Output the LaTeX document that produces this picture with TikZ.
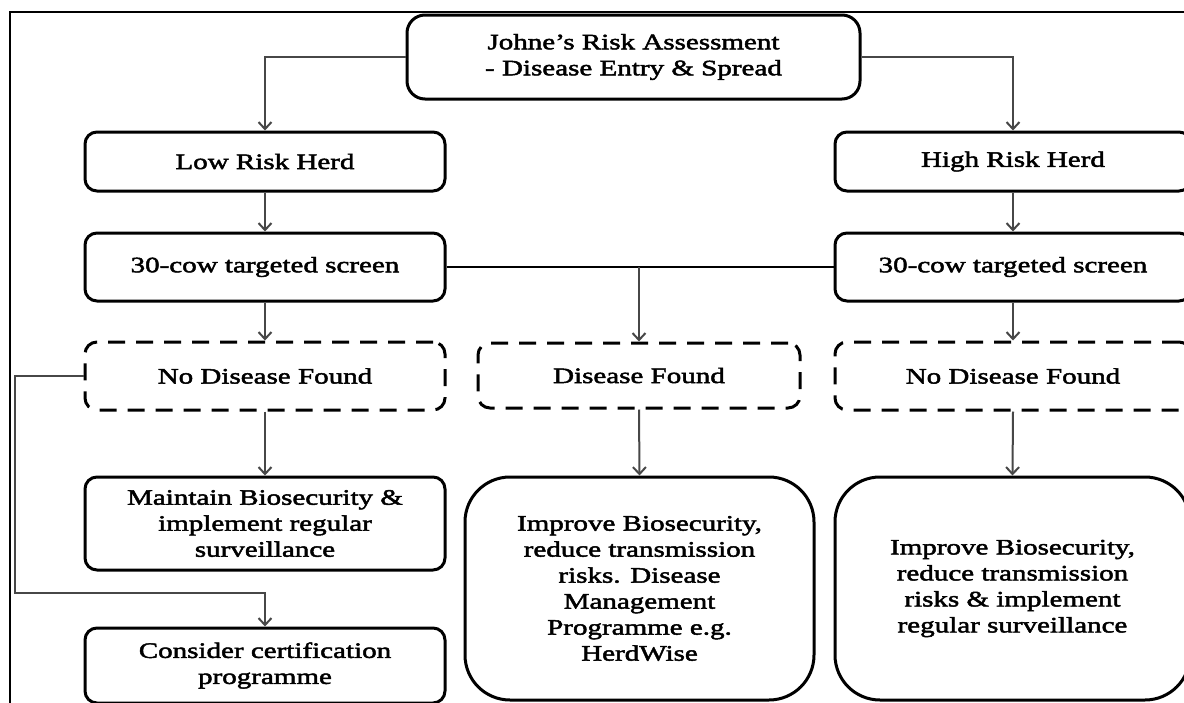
\documentclass[tikz,border=0pt]{standalone}
\usepackage{fontspec}
\setmainfont{Liberation Serif}[FakeStretch=1.32,FakeBold=2.2]
\usetikzlibrary{arrows.meta}
\begin{document}
\begin{tikzpicture}[x=1pt,y=-1pt,
  box/.style={draw=black, line width=3pt, rounded corners=12pt, align=center, inner sep=0pt, fill=white,
    font=\fontsize{22}{26}\selectfont},
  dbox/.style={box, dash pattern=on 17pt off 11pt},
  bigbox/.style={box, rounded corners=45pt},
  conn/.style={draw=black!72, line width=2pt},
  arr/.style={conn, -{Straight Barb[length=7pt,width=13pt,line width=2pt]}}
]
\useasboundingbox (0,0) rectangle (1184,702);
\clip (0,0) rectangle (1184,702);
\fill[white] (0,0) rectangle (1184,702);
\draw[line width=2.5pt] (10,760) -- (10,12) -- (1250,12);

\node[box, minimum width=453pt, minimum height=84pt, rounded corners=18pt] (top) at (633.5,57)
  {Johne's Risk Assessment\\- Disease Entry \& Spread};
\node[box, minimum width=360pt, minimum height=59pt] (low) at (265,161.5) {Low Risk Herd};
\node[box, minimum width=356pt, minimum height=59pt] (high) at (1013,161.5) {High Risk Herd};
\node[box, minimum width=360pt, minimum height=68pt] (lscr) at (265,267) {30-cow targeted screen};
\node[box, minimum width=356pt, minimum height=68pt] (rscr) at (1013,267) {30-cow targeted screen};
\node[dbox, minimum width=360pt, minimum height=68pt] (lnd) at (265,376) {No Disease Found};
\node[dbox, minimum width=322pt, minimum height=65pt] (md) at (639,375.5) {Disease Found};
\node[dbox, minimum width=356pt, minimum height=68pt] (rnd) at (1013,376) {No Disease Found};
\node[box, minimum width=360pt, minimum height=93pt] (maint) at (265,523.5)
  {Maintain Biosecurity \&\\implement regular\\surveillance};
\node[box, minimum width=360pt, minimum height=75pt] (cons) at (265,665.5)
  {Consider certification\\programme};
\node[bigbox, minimum width=349pt, minimum height=223pt] (mbig) at (639.5,588.5)
  {Improve Biosecurity,\\reduce transmission\\risks. Disease\\Management\\Programme e.g.\\HerdWise};
\node[bigbox, minimum width=355pt, minimum height=223pt] (rbig) at (1012.5,588.5)
  {Improve Biosecurity,\\reduce transmission\\risks \& implement\\regular surveillance};

\coordinate (loop) at (15,593);

\draw[arr] (top.west) -| (low.north);
\draw[arr] (top.east) -| (high.north);
\draw[arr] (low.south) -- (lscr.north);
\draw[arr] (high.south) -- (rscr.north);
\draw[arr] (lscr.south) -- (lnd.north);
\draw[arr] (rscr.south) -- (rnd.north);
\draw[line width=1.2pt] (lscr.east) -- (rscr.west);
\draw[arr] (md.north |- lscr.east) -- (md.north);
\draw[arr] (lnd.south) -- (maint.north);
\draw[arr] (md.south) -- (mbig.north);
\draw[arr] (rnd.south) -- (rbig.north);
\draw[arr] (lnd.west) -| (loop) -| (cons.north);
\end{tikzpicture}
\end{document}
